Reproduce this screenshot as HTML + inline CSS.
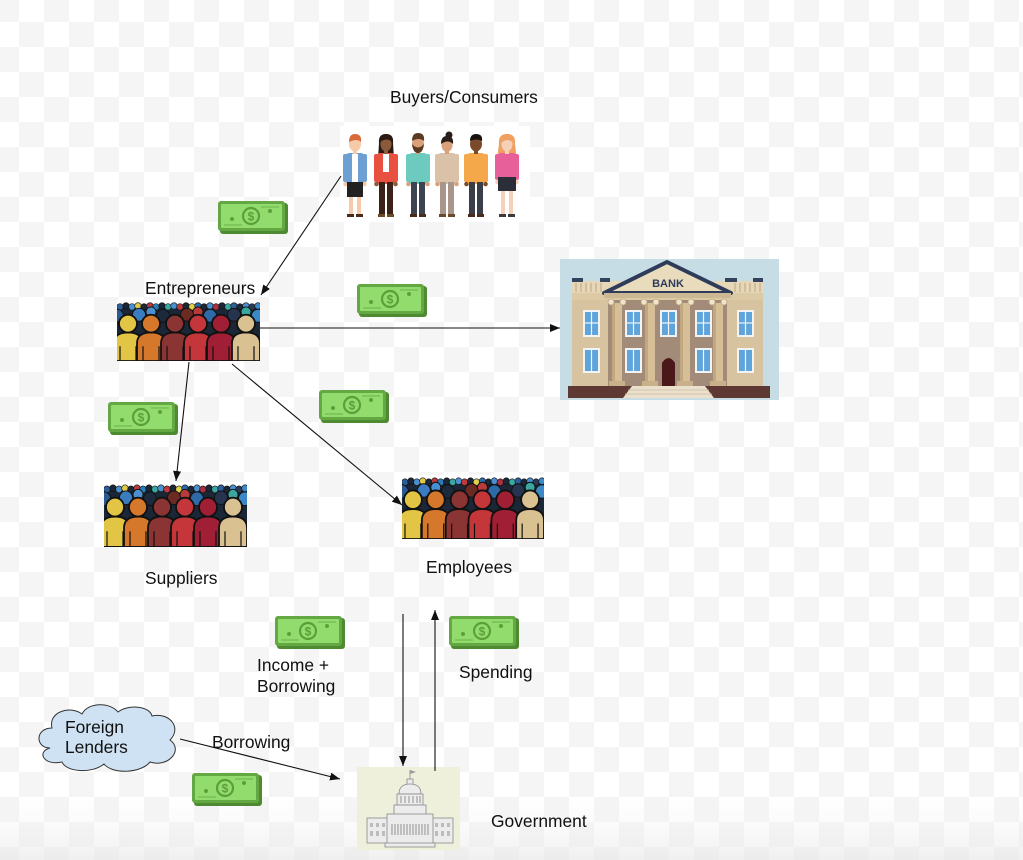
<!DOCTYPE html>
<html><head><meta charset="utf-8"><style>
html,body{margin:0;padding:0;background:#fff;}
svg{display:block;}
text{font-family:"Liberation Sans",Arial,sans-serif;}
</style></head><body>
<svg width="1023" height="860" viewBox="0 0 1023 860" xmlns="http://www.w3.org/2000/svg">
<defs>
<pattern id="cb" x="-6" y="-3" width="50" height="50" patternUnits="userSpaceOnUse">
<rect width="50" height="50" fill="#fff"/>
<rect width="25" height="25" fill="#f5f5f5"/>
<rect x="25" y="25" width="25" height="25" fill="#f5f5f5"/>
</pattern>
<linearGradient id="fade" x1="0" y1="0" x2="0" y2="1">
<stop offset="0" stop-color="#ebebeb" stop-opacity="0"/>
<stop offset="0.4" stop-color="#efefef" stop-opacity="0.25"/>
<stop offset="1" stop-color="#e6e6e6" stop-opacity="0.6"/>
</linearGradient>
<marker id="ah" markerWidth="10" markerHeight="8" refX="10" refY="4" orient="auto" markerUnits="userSpaceOnUse"><path d="M0,0 L10,4 L0,8 Z" fill="#111"/></marker>
<symbol id="crowd" viewBox="0 0 143 62" preserveAspectRatio="none">
<rect width="143" height="62" fill="#fff"/>
<rect x="0" y="8" width="143" height="54" fill="#1b2636"/>
<g stroke="#111" stroke-width="0.6">
<circle cx="3" cy="7" r="3.3" fill="#2d5f9a"/><circle cx="9" cy="6" r="3.3" fill="#1b2636"/>
<circle cx="15" cy="7" r="3.3" fill="#4a90d0"/><circle cx="21" cy="6" r="3.3" fill="#e0c94a"/>
<circle cx="27" cy="7" r="3.3" fill="#1b2636"/><circle cx="33" cy="6" r="3.3" fill="#b83a3a"/>
<circle cx="39" cy="7" r="3.3" fill="#2a7db8"/><circle cx="45" cy="6" r="3.3" fill="#1b2636"/>
<circle cx="51" cy="7" r="3.3" fill="#3aa7a0"/><circle cx="57" cy="6" r="3.3" fill="#4a90d0"/>
<circle cx="63" cy="7" r="3.3" fill="#c03a3a"/><circle cx="69" cy="6" r="3.3" fill="#1b2636"/>
<circle cx="75" cy="7" r="3.3" fill="#e0d04a"/><circle cx="81" cy="6" r="3.3" fill="#2a6aa8"/>
<circle cx="87" cy="7" r="3.3" fill="#1b2636"/><circle cx="93" cy="6" r="3.3" fill="#4a90d0"/>
<circle cx="99" cy="7" r="3.3" fill="#a83040"/><circle cx="105" cy="6" r="3.3" fill="#1b2636"/>
<circle cx="111" cy="7" r="3.3" fill="#3aa7a0"/><circle cx="117" cy="6" r="3.3" fill="#2d5f9a"/>
<circle cx="123" cy="7" r="3.3" fill="#1b2636"/><circle cx="129" cy="6" r="3.3" fill="#4a90d0"/>
<circle cx="135" cy="7" r="3.3" fill="#2a3a55"/><circle cx="141" cy="6" r="3.3" fill="#3a88c8"/>
</g>
<g stroke="#111" stroke-width="0.9">
<circle cx="0" cy="16" r="6.5" fill="#2a5a90"/>
<circle cx="22" cy="15" r="6.5" fill="#3b7cc0"/>
<circle cx="46" cy="16" r="6.5" fill="#1d2a3c"/>
<circle cx="70" cy="15" r="6.5" fill="#6b2a22"/>
<circle cx="93" cy="16" r="6.5" fill="#2e6aa8"/>
<circle cx="117" cy="15" r="6.5" fill="#263450"/>
<circle cx="141" cy="16" r="6.5" fill="#3a88c8"/>
<circle cx="34" cy="12" r="5" fill="#4a90d0"/>
<circle cx="81" cy="12" r="5" fill="#b83a3a"/>
<circle cx="129" cy="12" r="5" fill="#3aa7a0"/>
</g>
<g stroke="#111" stroke-width="1.8">
<path d="M-3,62 L-3,44 Q-3,33 11,33 Q25,33 25,44 L25,62 Z" fill="#e3c545"/><circle cx="11" cy="24" r="9" fill="#e3c545"/>
<path d="M20,62 L20,44 Q20,33 34,33 Q48,33 48,44 L48,62 Z" fill="#d6782c"/><circle cx="34" cy="24" r="9" fill="#d6782c"/>
<path d="M44,62 L44,44 Q44,33 58,33 Q72,33 72,44 L72,62 Z" fill="#8b3434"/><circle cx="58" cy="24" r="9" fill="#8b3434"/>
<path d="M67,62 L67,44 Q67,33 81,33 Q95,33 95,44 L95,62 Z" fill="#c4363a"/><circle cx="81" cy="24" r="9" fill="#c4363a"/>
<path d="M90,62 L90,44 Q90,33 104,33 Q118,33 118,44 L118,62 Z" fill="#a01f35"/><circle cx="104" cy="24" r="9" fill="#a01f35"/>
<path d="M115,62 L115,44 Q115,33 129,33 Q143,33 143,44 L143,62 Z" fill="#d9c192"/><circle cx="129" cy="24" r="9" fill="#d9c192"/>
</g>
<g stroke="#111" stroke-width="1.2">
<line x1="3" y1="47" x2="3" y2="62"/><line x1="19" y1="47" x2="19" y2="62"/>
<line x1="26" y1="47" x2="26" y2="62"/><line x1="42" y1="47" x2="42" y2="62"/>
<line x1="50" y1="47" x2="50" y2="62"/><line x1="66" y1="47" x2="66" y2="62"/>
<line x1="73" y1="47" x2="73" y2="62"/><line x1="89" y1="47" x2="89" y2="62"/>
<line x1="96" y1="47" x2="96" y2="62"/><line x1="112" y1="47" x2="112" y2="62"/>
<line x1="121" y1="47" x2="121" y2="62"/><line x1="137" y1="47" x2="137" y2="62"/>
</g>
</symbol>
</defs>

<rect width="1023" height="860" fill="url(#cb)"/>
<rect x="0" y="798" width="1023" height="62" fill="url(#fade)"/>

<!-- Buyers image -->
<rect x="340" y="126" width="190" height="96" fill="#fff"/>
<g transform="translate(355,135)">
<rect x="-12" y="19" width="5" height="28" rx="2" fill="#6e9fd2"/><rect x="7" y="19" width="5" height="28" rx="2" fill="#6e9fd2"/>
<circle cx="-9.5" cy="49" r="2.3" fill="#f6c9a8"/><circle cx="9.5" cy="49" r="2.3" fill="#f6c9a8"/>
<rect x="-9" y="18" width="18" height="31" rx="3" fill="#6e9fd2"/><rect x="-3" y="19" width="6" height="28" fill="#fff"/>
<rect x="-6" y="61" width="4" height="19" fill="#f6c9a8"/><rect x="2" y="61" width="4" height="19" fill="#f6c9a8"/>
<rect x="-8" y="47" width="16" height="15" fill="#222"/>
<rect x="-2" y="14" width="4" height="5" fill="#f6c9a8"/>
<ellipse cx="0" cy="9" rx="6" ry="7.5" fill="#f6c9a8"/>
<path d="M-6,7 Q-6,-1 0,-1 Q7,-1 6,7 Q2,3 -6,7Z" fill="#d9683a"/>
<rect x="-8" y="79" width="7" height="3" fill="#4a2a1a"/><rect x="1" y="79" width="7" height="3" fill="#4a2a1a"/>
</g>
<g transform="translate(386,135)">
<path d="M-7,8 Q-8,-1 0,-1 Q8,-1 7,8 L8,24 L-8,24 Z" fill="#2a1a12"/>
<rect x="-12" y="19" width="5" height="28" rx="2" fill="#e85040"/><rect x="7" y="19" width="5" height="28" rx="2" fill="#e85040"/>
<circle cx="-9.5" cy="49" r="2.3" fill="#8a5a3a"/><circle cx="9.5" cy="49" r="2.3" fill="#8a5a3a"/>
<rect x="-9" y="18" width="18" height="31" rx="3" fill="#e85040"/><rect x="-3" y="19" width="6" height="18" fill="#fff"/>
<rect x="-7" y="47" width="6" height="33" fill="#3a2218"/><rect x="1" y="47" width="6" height="33" fill="#3a2218"/>
<rect x="-2" y="14" width="4" height="5" fill="#8a5a3a"/>
<ellipse cx="0" cy="9" rx="5.5" ry="7.5" fill="#8a5a3a"/>
<path d="M-6,7 Q-6,-1 0,-1 Q6,-1 6,7 Q1,2 -6,7Z" fill="#2a1a12"/>
<rect x="-8" y="79" width="7" height="3" fill="#6a4a2a"/><rect x="1" y="79" width="7" height="3" fill="#6a4a2a"/>
</g>
<g transform="translate(418,135)">
<rect x="-12" y="19" width="5" height="28" rx="2" fill="#6ccabf"/><rect x="7" y="19" width="5" height="28" rx="2" fill="#6ccabf"/>
<circle cx="-9.5" cy="49" r="2.3" fill="#d9a07a"/><circle cx="9.5" cy="49" r="2.3" fill="#d9a07a"/>
<rect x="-9" y="18" width="18" height="31" rx="3" fill="#6ccabf"/>
<rect x="-7" y="47" width="6" height="33" fill="#3d4450"/><rect x="1" y="47" width="6" height="33" fill="#3d4450"/>
<rect x="-2" y="14" width="4" height="5" fill="#d9a07a"/>
<ellipse cx="0" cy="9" rx="6" ry="7.5" fill="#d9a07a"/>
<path d="M-6,6 Q-6,-2 0,-2 Q7,-2 6,6 Q1,2 -6,6Z" fill="#5a3a22"/>
<path d="M-6,9 Q-5,18 0,18 Q5,18 6,9 L4,11 Q0,14 -4,11 Z" fill="#5a3a22"/>
<rect x="-8" y="79" width="7" height="3" fill="#4a2a1a"/><rect x="1" y="79" width="7" height="3" fill="#4a2a1a"/>
</g>
<g transform="translate(447,135)">
<circle cx="2" cy="0" r="3.5" fill="#2a1e1a"/>
<rect x="-12" y="19" width="5" height="28" rx="2" fill="#d9c2a8"/><rect x="7" y="19" width="5" height="28" rx="2" fill="#d9c2a8"/>
<circle cx="-9.5" cy="49" r="2.3" fill="#d9a07a"/><circle cx="9.5" cy="49" r="2.3" fill="#d9a07a"/>
<rect x="-9" y="18" width="18" height="31" rx="3" fill="#d9c2a8"/>
<rect x="-7" y="47" width="6" height="33" fill="#a8968a"/><rect x="1" y="47" width="6" height="33" fill="#a8968a"/>
<rect x="-2" y="14" width="4" height="5" fill="#d9a07a"/>
<ellipse cx="0" cy="10" rx="5.5" ry="7" fill="#d9a07a"/>
<path d="M-6,9 Q-6,1 0,1 Q7,1 6,9 Q1,4 -6,9Z" fill="#2a1e1a"/>
<rect x="-8" y="79" width="7" height="3" fill="#6a4a2a"/><rect x="1" y="79" width="7" height="3" fill="#6a4a2a"/>
</g>
<g transform="translate(476,135)">
<rect x="-12" y="19" width="5" height="28" rx="2" fill="#f5a84a"/><rect x="7" y="19" width="5" height="28" rx="2" fill="#f5a84a"/>
<circle cx="-9.5" cy="49" r="2.3" fill="#7a4a2a"/><circle cx="9.5" cy="49" r="2.3" fill="#7a4a2a"/>
<rect x="-9" y="18" width="18" height="31" rx="3" fill="#f5a84a"/>
<rect x="-7" y="47" width="6" height="33" fill="#3a3e48"/><rect x="1" y="47" width="6" height="33" fill="#3a3e48"/>
<rect x="-2" y="14" width="4" height="5" fill="#7a4a2a"/>
<ellipse cx="0" cy="9" rx="6" ry="7.5" fill="#7a4a2a"/>
<path d="M-6,6 Q-6,-1 0,-1 Q7,-1 6,6 Q1,3 -6,6Z" fill="#1a1210"/>
<rect x="-8" y="79" width="7" height="3" fill="#4a2a1a"/><rect x="1" y="79" width="7" height="3" fill="#4a2a1a"/>
</g>
<g transform="translate(507,135)">
<path d="M-8,9 Q-9,-1 0,-1 Q9,-1 8,9 L10,25 L-10,25 Z" fill="#f0a060"/>
<rect x="-12" y="19" width="5" height="26" rx="2" fill="#e8609a"/><rect x="7" y="19" width="5" height="26" rx="2" fill="#e8609a"/>
<circle cx="-9.5" cy="47" r="2.3" fill="#f6d0b8"/><circle cx="9.5" cy="47" r="2.3" fill="#f6d0b8"/>
<rect x="-9" y="18" width="18" height="25" rx="3" fill="#e8609a"/>
<rect x="-6" y="55" width="4" height="25" fill="#f6d0b8"/><rect x="2" y="55" width="4" height="25" fill="#f6d0b8"/>
<rect x="-9" y="42" width="18" height="14" fill="#2a2e38"/>
<rect x="-2" y="14" width="4" height="5" fill="#f6d0b8"/>
<ellipse cx="0" cy="9" rx="5.5" ry="7.5" fill="#f6d0b8"/>
<path d="M-6,8 Q-6,-1 0,-1 Q7,-1 6,8 Q1,2 -6,8Z" fill="#f0a060"/>
<rect x="-8" y="79" width="7" height="3" fill="#3a3a40"/><rect x="1" y="79" width="7" height="3" fill="#3a3a40"/>
</g>

<!-- crowds -->
<use href="#crowd" x="117" y="300" width="143" height="61"/>
<use href="#crowd" x="104" y="482" width="143" height="65"/>
<use href="#crowd" x="402" y="475" width="142" height="64"/>

<!-- Bank -->
<g transform="translate(560,259)">
<rect width="219" height="141" fill="#c7dde6"/>
<rect x="12" y="22" width="191" height="12" fill="#e6d7b8"/>
<g stroke="#c4ae88" stroke-width="1.2">
<line x1="16" y1="24" x2="16" y2="33"/><line x1="21" y1="24" x2="21" y2="33"/><line x1="26" y1="24" x2="26" y2="33"/><line x1="31" y1="24" x2="31" y2="33"/><line x1="36" y1="24" x2="36" y2="33"/><line x1="41" y1="24" x2="41" y2="33"/>
<line x1="175" y1="24" x2="175" y2="33"/><line x1="180" y1="24" x2="180" y2="33"/><line x1="185" y1="24" x2="185" y2="33"/><line x1="190" y1="24" x2="190" y2="33"/><line x1="195" y1="24" x2="195" y2="33"/><line x1="200" y1="24" x2="200" y2="33"/>
</g>
<rect x="12" y="19" width="11" height="4" fill="#35425e"/>
<rect x="40" y="19" width="10" height="4" fill="#35425e"/>
<rect x="165" y="19" width="12" height="4" fill="#35425e"/>
<rect x="193" y="19" width="10" height="4" fill="#35425e"/>
<rect x="12" y="34" width="191" height="8" fill="#dccaa5"/>
<rect x="12" y="41" width="36" height="88" fill="#d8c3a0"/>
<rect x="167" y="41" width="36" height="88" fill="#d8c3a0"/>
<rect x="48" y="41" width="119" height="88" fill="#a38b7a"/>
<path d="M44,34 L107,3 L171,34 Z" fill="#e9dcbc" stroke="#2e3b5a" stroke-width="4" stroke-linejoin="round"/>
<text x="108" y="28" text-anchor="middle" font-family="Liberation Serif, serif" font-weight="bold" font-size="11" fill="#2e3b5a">BANK</text>
<rect x="44" y="34" width="127" height="5" fill="#cdb894"/>
<g>
<rect x="23" y="51" width="17" height="27" fill="#f1f3f4"/><rect x="25" y="53" width="13" height="23" fill="#5fa5dc"/>
<rect x="23" y="89" width="17" height="25" fill="#f1f3f4"/><rect x="25" y="91" width="13" height="21" fill="#5fa5dc"/>
<rect x="177" y="51" width="17" height="27" fill="#f1f3f4"/><rect x="179" y="53" width="13" height="23" fill="#5fa5dc"/>
<rect x="177" y="89" width="17" height="25" fill="#f1f3f4"/><rect x="179" y="91" width="13" height="21" fill="#5fa5dc"/>
<rect x="65" y="51" width="17" height="27" fill="#f1f3f4"/><rect x="67" y="53" width="13" height="23" fill="#5fa5dc"/>
<rect x="100" y="51" width="17" height="27" fill="#f1f3f4"/><rect x="102" y="53" width="13" height="23" fill="#5fa5dc"/>
<rect x="135" y="51" width="17" height="27" fill="#f1f3f4"/><rect x="137" y="53" width="13" height="23" fill="#5fa5dc"/>
<rect x="65" y="89" width="17" height="25" fill="#f1f3f4"/><rect x="67" y="91" width="13" height="21" fill="#5fa5dc"/>
<rect x="135" y="89" width="17" height="25" fill="#f1f3f4"/><rect x="137" y="91" width="13" height="21" fill="#5fa5dc"/>
</g>
<g stroke="#f1f3f4" stroke-width="1.2">
<line x1="31.5" y1="53" x2="31.5" y2="76"/><line x1="25" y1="64" x2="38" y2="64"/>
<line x1="31.5" y1="91" x2="31.5" y2="112"/>
<line x1="185.5" y1="53" x2="185.5" y2="76"/><line x1="179" y1="64" x2="192" y2="64"/>
<line x1="185.5" y1="91" x2="185.5" y2="112"/>
<line x1="73.5" y1="53" x2="73.5" y2="76"/><line x1="67" y1="64" x2="80" y2="64"/>
<line x1="108.5" y1="53" x2="108.5" y2="76"/><line x1="102" y1="64" x2="115" y2="64"/>
<line x1="143.5" y1="53" x2="143.5" y2="76"/><line x1="137" y1="64" x2="150" y2="64"/>
<line x1="73.5" y1="91" x2="73.5" y2="112"/><line x1="143.5" y1="91" x2="143.5" y2="112"/>
</g>
<g>
<rect x="52" y="44" width="10" height="82" fill="#d6bf96"/><rect x="52" y="44" width="3" height="82" fill="#c1a880"/>
<rect x="85" y="44" width="10" height="82" fill="#d6bf96"/><rect x="85" y="44" width="3" height="82" fill="#c1a880"/>
<rect x="120" y="44" width="10" height="82" fill="#d6bf96"/><rect x="120" y="44" width="3" height="82" fill="#c1a880"/>
<rect x="153" y="44" width="10" height="82" fill="#d6bf96"/><rect x="153" y="44" width="3" height="82" fill="#c1a880"/>
</g>
<g fill="#efe4cc" stroke="#c1a880" stroke-width="0.8">
<circle cx="51" cy="43" r="3"/><circle cx="63" cy="43" r="3"/>
<circle cx="84" cy="43" r="3"/><circle cx="96" cy="43" r="3"/>
<circle cx="119" cy="43" r="3"/><circle cx="131" cy="43" r="3"/>
<circle cx="152" cy="43" r="3"/><circle cx="164" cy="43" r="3"/>
</g>
<g fill="#c9b08a">
<rect x="49" y="122" width="16" height="6"/><rect x="82" y="122" width="16" height="6"/>
<rect x="117" y="122" width="16" height="6"/><rect x="150" y="122" width="16" height="6"/>
</g>
<path d="M102,128 L102,104 Q108.5,94 115,104 L115,128Z" fill="#4a1818"/>
<rect x="8" y="127" width="202" height="12" fill="#5e3933"/>
<polygon points="72,127 145,127 154,139 63,139" fill="#ebe0cc"/>
<g stroke="#cbbda4" stroke-width="0.8"><line x1="68" y1="131" x2="149" y2="131"/><line x1="65" y1="135" x2="152" y2="135"/></g>
</g>

<!-- Capitol -->
<g transform="translate(357,767)">
<rect width="103" height="83" fill="#eef0dc"/>
<g fill="#ececec" stroke="#8a8a8a" stroke-width="0.8">
<line x1="53" y1="3" x2="53" y2="13"/>
<rect x="50" y="12" width="6" height="6"/>
<path d="M42,27 Q42,17 53,17 Q64,17 64,27 Z"/>
<rect x="40" y="27" width="26" height="11"/>
<rect x="37" y="38" width="32" height="10"/>
<rect x="10" y="51" width="24" height="25"/>
<rect x="72" y="51" width="24" height="25"/>
<rect x="30" y="47" width="46" height="30"/>
<rect x="28" y="76" width="50" height="4"/>
</g>
<path d="M53,3 L59,5 L53,7Z" fill="#999"/>
<g stroke="#888" stroke-width="0.9">
<line x1="44" y1="29" x2="44" y2="36"/><line x1="48" y1="29" x2="48" y2="36"/><line x1="52" y1="29" x2="52" y2="36"/><line x1="56" y1="29" x2="56" y2="36"/><line x1="60" y1="29" x2="60" y2="36"/><line x1="63" y1="29" x2="63" y2="36"/>
<line x1="35" y1="57" x2="35" y2="68"/><line x1="38" y1="57" x2="38" y2="68"/><line x1="41" y1="57" x2="41" y2="68"/><line x1="44" y1="57" x2="44" y2="68"/><line x1="47" y1="57" x2="47" y2="68"/><line x1="50" y1="57" x2="50" y2="68"/><line x1="53" y1="57" x2="53" y2="68"/><line x1="56" y1="57" x2="56" y2="68"/><line x1="59" y1="57" x2="59" y2="68"/><line x1="62" y1="57" x2="62" y2="68"/><line x1="65" y1="57" x2="65" y2="68"/><line x1="68" y1="57" x2="68" y2="68"/><line x1="71" y1="57" x2="71" y2="68"/>
</g>
<g fill="#bdbdbd">
<rect x="13" y="56" width="3" height="4"/><rect x="19" y="56" width="3" height="4"/><rect x="25" y="56" width="3" height="4"/>
<rect x="13" y="64" width="3" height="5"/><rect x="19" y="64" width="3" height="5"/><rect x="25" y="64" width="3" height="5"/>
<rect x="78" y="56" width="3" height="4"/><rect x="84" y="56" width="3" height="4"/><rect x="90" y="56" width="3" height="4"/>
<rect x="78" y="64" width="3" height="5"/><rect x="84" y="64" width="3" height="5"/><rect x="90" y="64" width="3" height="5"/>
</g>
</g>

<!-- Cloud -->
<path d="M50,748 C35,748 35,728 52,728 C48,712 70,705 82,714 C88,702 110,702 118,712 C128,704 150,706 152,716 C170,712 182,728 170,740 C184,750 168,768 150,762 C140,774 112,774 104,764 C92,774 66,772 62,762 C44,766 36,752 50,748 Z" fill="#cfe2f3" stroke="#333" stroke-width="1"/>

<!-- Money icons -->
<g transform="translate(218,201)">
<rect x="2" y="2" width="68" height="31" rx="3" fill="#4e8a32"/><rect x="0" y="0" width="67" height="30" rx="3" fill="#63a843"/><rect x="3" y="3" width="61" height="24" rx="1" fill="#92dc6d"/>
<line x1="43" y1="6" x2="61" y2="6" stroke="#6cb04a"/><line x1="6" y1="24" x2="24" y2="24" stroke="#6cb04a"/>
<circle cx="33" cy="15" r="8" fill="#92dc6d" stroke="#5c9e3a" stroke-width="2.2"/><text x="33" y="19.5" text-anchor="middle" font-size="12" font-weight="bold" fill="#5c9e3a">$</text>
<circle cx="14" cy="18" r="2" fill="#5c9e3a"/><circle cx="52" cy="10" r="2" fill="#5c9e3a"/>
</g>
<g transform="translate(357,284)">
<rect x="2" y="2" width="68" height="31" rx="3" fill="#4e8a32"/><rect x="0" y="0" width="67" height="30" rx="3" fill="#63a843"/><rect x="3" y="3" width="61" height="24" rx="1" fill="#92dc6d"/>
<line x1="43" y1="6" x2="61" y2="6" stroke="#6cb04a"/><line x1="6" y1="24" x2="24" y2="24" stroke="#6cb04a"/>
<circle cx="33" cy="15" r="8" fill="#92dc6d" stroke="#5c9e3a" stroke-width="2.2"/><text x="33" y="19.5" text-anchor="middle" font-size="12" font-weight="bold" fill="#5c9e3a">$</text>
<circle cx="14" cy="18" r="2" fill="#5c9e3a"/><circle cx="52" cy="10" r="2" fill="#5c9e3a"/>
</g>
<g transform="translate(108,402)">
<rect x="2" y="2" width="68" height="31" rx="3" fill="#4e8a32"/><rect x="0" y="0" width="67" height="30" rx="3" fill="#63a843"/><rect x="3" y="3" width="61" height="24" rx="1" fill="#92dc6d"/>
<line x1="43" y1="6" x2="61" y2="6" stroke="#6cb04a"/><line x1="6" y1="24" x2="24" y2="24" stroke="#6cb04a"/>
<circle cx="33" cy="15" r="8" fill="#92dc6d" stroke="#5c9e3a" stroke-width="2.2"/><text x="33" y="19.5" text-anchor="middle" font-size="12" font-weight="bold" fill="#5c9e3a">$</text>
<circle cx="14" cy="18" r="2" fill="#5c9e3a"/><circle cx="52" cy="10" r="2" fill="#5c9e3a"/>
</g>
<g transform="translate(319,390)">
<rect x="2" y="2" width="68" height="31" rx="3" fill="#4e8a32"/><rect x="0" y="0" width="67" height="30" rx="3" fill="#63a843"/><rect x="3" y="3" width="61" height="24" rx="1" fill="#92dc6d"/>
<line x1="43" y1="6" x2="61" y2="6" stroke="#6cb04a"/><line x1="6" y1="24" x2="24" y2="24" stroke="#6cb04a"/>
<circle cx="33" cy="15" r="8" fill="#92dc6d" stroke="#5c9e3a" stroke-width="2.2"/><text x="33" y="19.5" text-anchor="middle" font-size="12" font-weight="bold" fill="#5c9e3a">$</text>
<circle cx="14" cy="18" r="2" fill="#5c9e3a"/><circle cx="52" cy="10" r="2" fill="#5c9e3a"/>
</g>
<g transform="translate(275,616)">
<rect x="2" y="2" width="68" height="31" rx="3" fill="#4e8a32"/><rect x="0" y="0" width="67" height="30" rx="3" fill="#63a843"/><rect x="3" y="3" width="61" height="24" rx="1" fill="#92dc6d"/>
<line x1="43" y1="6" x2="61" y2="6" stroke="#6cb04a"/><line x1="6" y1="24" x2="24" y2="24" stroke="#6cb04a"/>
<circle cx="33" cy="15" r="8" fill="#92dc6d" stroke="#5c9e3a" stroke-width="2.2"/><text x="33" y="19.5" text-anchor="middle" font-size="12" font-weight="bold" fill="#5c9e3a">$</text>
<circle cx="14" cy="18" r="2" fill="#5c9e3a"/><circle cx="52" cy="10" r="2" fill="#5c9e3a"/>
</g>
<g transform="translate(449,616)">
<rect x="2" y="2" width="68" height="31" rx="3" fill="#4e8a32"/><rect x="0" y="0" width="67" height="30" rx="3" fill="#63a843"/><rect x="3" y="3" width="61" height="24" rx="1" fill="#92dc6d"/>
<line x1="43" y1="6" x2="61" y2="6" stroke="#6cb04a"/><line x1="6" y1="24" x2="24" y2="24" stroke="#6cb04a"/>
<circle cx="33" cy="15" r="8" fill="#92dc6d" stroke="#5c9e3a" stroke-width="2.2"/><text x="33" y="19.5" text-anchor="middle" font-size="12" font-weight="bold" fill="#5c9e3a">$</text>
<circle cx="14" cy="18" r="2" fill="#5c9e3a"/><circle cx="52" cy="10" r="2" fill="#5c9e3a"/>
</g>
<g transform="translate(192,773)">
<rect x="2" y="2" width="68" height="31" rx="3" fill="#4e8a32"/><rect x="0" y="0" width="67" height="30" rx="3" fill="#63a843"/><rect x="3" y="3" width="61" height="24" rx="1" fill="#92dc6d"/>
<line x1="43" y1="6" x2="61" y2="6" stroke="#6cb04a"/><line x1="6" y1="24" x2="24" y2="24" stroke="#6cb04a"/>
<circle cx="33" cy="15" r="8" fill="#92dc6d" stroke="#5c9e3a" stroke-width="2.2"/><text x="33" y="19.5" text-anchor="middle" font-size="12" font-weight="bold" fill="#5c9e3a">$</text>
<circle cx="14" cy="18" r="2" fill="#5c9e3a"/><circle cx="52" cy="10" r="2" fill="#5c9e3a"/>
</g>

<!-- Arrows -->
<g stroke="#111" stroke-width="1.1" fill="none">
<line x1="341" y1="176" x2="261" y2="295" marker-end="url(#ah)"/>
<line x1="260" y1="328" x2="560" y2="328" marker-end="url(#ah)"/>
<line x1="189" y1="362" x2="176" y2="481" marker-end="url(#ah)"/>
<line x1="232" y1="364" x2="402" y2="505" marker-end="url(#ah)"/>
<line x1="403" y1="614" x2="403" y2="766" marker-end="url(#ah)"/>
<line x1="435" y1="771" x2="435" y2="610" marker-end="url(#ah)"/>
<line x1="180" y1="739" x2="340" y2="779" marker-end="url(#ah)"/>
</g>

<!-- Labels -->
<g font-size="17.4" fill="#111">
<text x="390" y="103">Buyers/Consumers</text>
<text x="145" y="294">Entrepreneurs</text>
<text x="145" y="584">Suppliers</text>
<text x="426" y="573">Employees</text>
<text x="257" y="671">Income +</text>
<text x="257" y="692">Borrowing</text>
<text x="459" y="678">Spending</text>
<text x="212" y="748">Borrowing</text>
<text x="491" y="827">Government</text>
<text x="65" y="733">Foreign</text>
<text x="65" y="753">Lenders</text>
</g>
</svg>
</body></html>
